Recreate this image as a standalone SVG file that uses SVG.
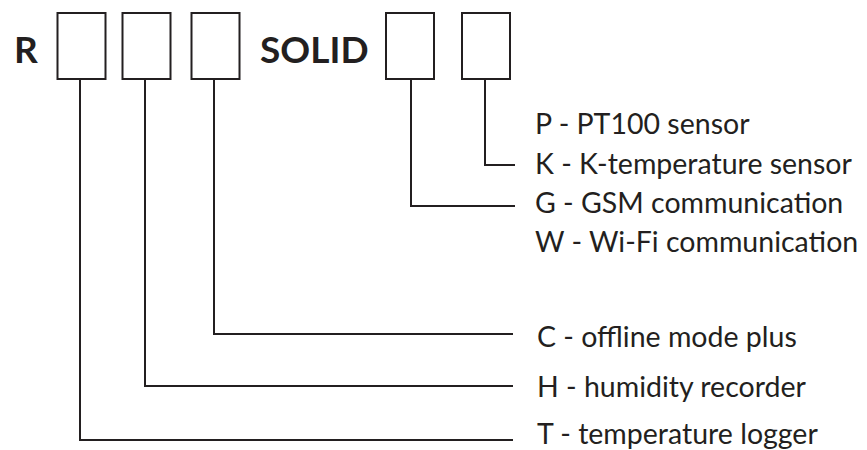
<svg xmlns="http://www.w3.org/2000/svg" width="867" height="450" viewBox="0 0 867 450">
<style>
.box{fill:#fff;stroke:#231f20;stroke-width:2}
.ln{fill:none;stroke:#231f20;stroke-width:2}
.big{font-family:Lato,"Liberation Sans",sans-serif;font-weight:bold;font-size:37px;fill:#231f20}
.lbl{font-family:Lato,"Liberation Sans",sans-serif;font-size:28.5px;fill:#231f20}
</style>
<rect width="867" height="450" fill="#fff"/>
<text class="big" x="14" y="63">R</text>
<text class="big" x="260" y="63">SOLID</text>
<g id="box1"><rect class="box" x="57.5" y="13" width="48" height="66"/></g>
<g id="box2"><rect class="box" x="122.5" y="13" width="48" height="66"/></g>
<g id="box3"><rect class="box" x="191.5" y="13" width="48" height="66"/></g>
<g id="box4"><rect class="box" x="386" y="13" width="48" height="66"/></g>
<g id="box5"><rect class="box" x="462" y="13" width="48" height="66"/></g>
<g id="connectors">
<polyline class="ln" points="80,79 80,440 513,440"/>
<polyline class="ln" points="145,79 145,386 513,386"/>
<polyline class="ln" points="214,79 214,334 513,334"/>
<polyline class="ln" points="411,79 411,206 515,206"/>
<polyline class="ln" points="485,79 485,165 515,165"/>
</g>
<g id="labels">
<text class="lbl" x="535" y="134">P - PT100 sensor</text>
<text class="lbl" x="535" y="174">K - K-temperature sensor</text>
<text class="lbl" x="535" y="213">G - GSM communication</text>
<text class="lbl" x="535" y="252">W - Wi-Fi communication</text>
<text class="lbl" x="537" y="347">C - offline mode plus</text>
<text class="lbl" x="537" y="397">H - humidity recorder</text>
<text class="lbl" x="537" y="443.5">T - temperature logger</text>
</g>
</svg>
